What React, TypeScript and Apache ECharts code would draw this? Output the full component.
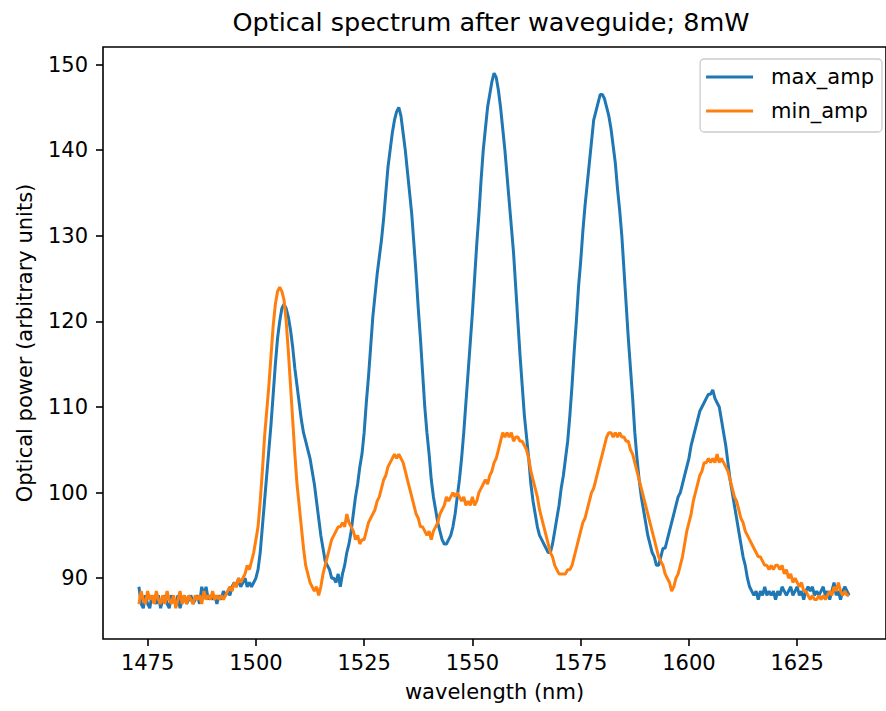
import React, { useEffect, useRef } from "react";
import * as echarts from "echarts";

const TITLE = "Optical spectrum after waveguide; 8mW";
const X_NAME = "wavelength (nm)";
const Y_NAME = "Optical power (arbitrary units)";
const SERIES_NAMES = ["max_amp", "min_amp"];
const X_TICKS = [1475, 1500, 1525, 1550, 1575, 1600, 1625];
const Y_TICKS = [90, 100, 110, 120, 130, 140, 150];

// wavelength sampling (nm)
const WL_START = 1473;
const WL_STEP = 0.5;

const MAX_AMP = [
  89, 87, 86.5, 88, 87, 86.5, 88, 87.5, 87, 88, 86.5, 87.5, 88, 87, 86.5, 88, 87.5, 87, 88, 86.5,
  87.5, 88, 87, 87.5, 88, 87, 87.5, 88, 87, 89, 88, 89, 87.5, 88, 87.5, 88, 87, 88, 87.5, 88.5,
  88, 88.5, 88, 89, 89.5, 89, 90, 89, 89.5, 90, 89, 89.5, 89, 89.5, 90, 91, 93, 96, 99, 102,
  105, 108, 111.5, 115, 118, 120, 121.5, 122, 121.5, 120.5, 119, 117, 114.5, 112.5, 110.5, 108.5, 107, 106, 105, 104,
  102.5, 101, 99, 97, 95, 93.5, 92, 91.5, 91, 90, 90, 89.5, 90.5, 89, 90.5, 91.5, 93, 94, 95.5, 97.5,
  99.5, 101, 103, 104.5, 107, 110.5, 113.5, 117, 120.5, 123, 125.5, 127.5, 129.5, 132, 135, 138, 140, 142, 143.5, 144.5,
  145, 144, 142, 140, 137.5, 135, 132.5, 129, 125.5, 121.5, 118, 114, 110, 107, 104.5, 101.5, 99.5, 98, 96.5, 95.5,
  94.5, 94, 94, 94.5, 95, 96, 97.5, 99.5, 101.5, 104, 107, 110.5, 114, 117.5, 121, 125, 129, 132.5, 136.5, 140,
  142.5, 145, 146.5, 148, 149, 148.5, 147, 145, 142.5, 140, 137, 134, 131, 128, 124, 120, 116, 112.5, 109, 106.5,
  104, 101, 99, 97.5, 96, 95, 94.5, 94, 93.5, 93, 93, 94, 95.5, 97, 98.5, 100.5, 102, 104, 106, 109,
  112.5, 116.5, 120, 124, 127, 130.5, 133.5, 136, 138.5, 141, 143.5, 144.5, 145.5, 146.5, 146.5, 146, 145, 144, 142.5, 140.5,
  138.5, 135.5, 133, 130, 126, 122, 118, 114.5, 111, 107, 104, 101.5, 99.5, 98, 96.5, 95, 94, 93, 92.5, 91.5,
  91.5, 92.5, 93.5, 93.5, 94.5, 95.5, 96.5, 97.5, 98.5, 99.5, 100, 101, 102, 103, 104, 105.5, 106.5, 107.5, 108.5, 109.5,
  110, 110.5, 111, 111.5, 111.5, 112, 111, 110.5, 110, 108.5, 107, 105.5, 103.5, 101.5, 100, 98.5, 97, 95.5, 94, 92.5,
  91.5, 90, 89, 88.5, 88, 88.5, 87.5, 88.5, 88, 89, 88, 88.5, 88, 88.5, 87.5, 88.5, 88, 89, 88.5, 88,
  88.5, 89, 88, 88.5, 89, 88, 88.5, 87.5, 88.5, 89, 88.5, 89, 88, 88.5, 88, 88.5, 89, 88, 88.5, 87.5,
  88.5, 89.5, 88, 88.5, 87.5, 88.5, 89, 88.5, 88,
];

const MIN_AMP = [
  87, 88.5, 87.5, 87, 88.5, 87.5, 88, 87, 88.5, 87.5, 87, 88, 87, 88.5, 87.5, 87, 88, 86.5, 87.5, 88.5,
  87, 88, 87, 88, 87.5, 87, 88, 87.5, 88, 87, 88.5, 87.5, 88, 87.5, 88.5, 87.5, 88, 87.5, 88, 87.5,
  88, 88.5, 89, 88.5, 89.5, 89, 90, 89.5, 90, 90.5, 91.5, 91, 92, 93, 94.5, 96, 99, 102.5, 106.5, 109.5,
  112.5, 116, 119.5, 122, 123.5, 124, 123.5, 122.5, 120, 116.5, 112.5, 108.5, 104.5, 101, 98.5, 96, 93.5, 91.5, 90.5, 89.5,
  89, 88.5, 89, 88, 89, 90.5, 91.5, 92.5, 93.5, 94.5, 95, 95.5, 96, 96, 96.5, 96, 97.5, 96.5, 96, 95.5,
  94.5, 95, 94, 94.5, 94.5, 95.5, 96.5, 97, 97.5, 98, 99, 99.5, 100.5, 101.5, 102, 103, 103.5, 104, 104.5, 104,
  104.5, 104, 103.5, 102.5, 101.5, 100.5, 99.5, 98.5, 97.5, 97, 96, 96, 95.5, 95, 95.5, 94.5, 95.5, 96, 96.5, 97.5,
  98, 98.5, 99.5, 99, 99.5, 100, 99.5, 100, 99.5, 99, 99.5, 98.5, 99, 98.5, 99.5, 98.5, 99, 100, 100.5, 101,
  101.5, 101, 102, 102.5, 103.5, 104, 105, 106, 107, 106.5, 107, 106.5, 107, 106, 106.5, 106.5, 106, 106, 105.5, 105,
  104, 102.5, 101.5, 100.5, 99.5, 98, 97, 96, 95, 94, 93, 92.5, 91.5, 91, 90.5, 90.5, 90.5, 90.5, 91, 91,
  91.5, 92.5, 93.5, 94.5, 95.5, 96.5, 97, 98, 99, 100, 100.5, 101.5, 102.5, 103.5, 104.5, 105.5, 106.5, 107, 107, 106.5,
  107, 106.5, 107, 106.5, 106.5, 106, 106, 105, 104.5, 103.5, 102.5, 101.5, 100.5, 99.5, 98.5, 97.5, 96.5, 95.5, 94.5, 93.5,
  92.5, 92, 91.5, 90.5, 90, 89.5, 88.5, 89, 90, 90.5, 91.5, 92.5, 94, 95.5, 96.5, 97.5, 99, 100, 101, 102,
  102.5, 103.5, 103.5, 104, 103.5, 104, 103.5, 104.5, 103.5, 104, 103.5, 103, 102.5, 101.5, 100.5, 99.5, 99, 98, 97, 96.5,
  95.5, 95, 94.5, 94, 93.5, 93, 92.5, 92.5, 92, 91.5, 91.5, 91, 91.5, 91, 91.5, 91.5, 91, 91.5, 90.5, 91,
  90, 90.5, 89.5, 90, 89.5, 89, 89.5, 88.5, 88.5, 88, 87.5, 88, 87.5, 87.5, 88, 87.5, 88, 87.5, 88, 88.5,
  88, 89, 88.5, 89.5, 88.5, 88, 88.5, 88, 88,
];

const COLORS = ["#1f77b4", "#ff7f0e"];
const FONT = "DejaVu Sans";

export default function App() {
  const ref = useRef<HTMLDivElement>(null);
  useEffect(() => {
    if (!ref.current) return;
    const chart = echarts.init(ref.current, null, { renderer: "svg" });
    const toPairs = (vals: number[]) =>
      vals.map((v, i) => [WL_START + i * WL_STEP, v]);
    const axisText = { fontFamily: FONT, fontSize: 21, color: "#000" };
    chart.setOption({
      animation: false,
      backgroundColor: "#ffffff",
      graphic: [
        {
          type: "text",
          x: 491,
          y: 22,
          style: {
            text: TITLE,
            fill: "#000",
            fontFamily: FONT,
            fontSize: 25.5,
            textAlign: "center",
            textVerticalAlign: "middle",
            align: "center",
            verticalAlign: "middle",
          },
        },
      ],
      grid: {
        left: 103,
        right: -13,
        top: 47,
        bottom: 72,
        show: true,
        borderColor: "#000",
        borderWidth: 1.6,
        backgroundColor: "transparent",
      },
      xAxis: {
        type: "value",
        min: 1464.7,
        max: 1645.5,
        name: X_NAME,
        nameLocation: "middle",
        nameGap: 42,
        nameTextStyle: axisText,
        axisLine: { show: false },
        splitLine: { show: false },
        axisTick: {
          show: true,
          length: 7,
          lineStyle: { color: "#000", width: 1.6 },
          customValues: X_TICKS,
        },
        axisLabel: {
          ...axisText,
          margin: 13,
          customValues: X_TICKS,
          formatter: (v: number) => String(v),
        },
      },
      yAxis: {
        type: "value",
        min: 82.9,
        max: 152.05,
        name: Y_NAME,
        nameLocation: "middle",
        nameGap: 68,
        nameTextStyle: axisText,
        axisLine: { show: false },
        splitLine: { show: false },
        axisTick: {
          show: true,
          length: 7,
          lineStyle: { color: "#000", width: 1.6 },
          customValues: Y_TICKS,
        },
        axisLabel: {
          ...axisText,
          margin: 15,
          customValues: Y_TICKS,
          formatter: (v: number) => String(v),
        },
      },
      legend: {
        orient: "vertical",
        right: 4,
        top: 59,
        data: SERIES_NAMES,
        icon: "rect",
        itemWidth: 47,
        itemHeight: 3,
        itemGap: 10,
        padding: [6, 8, 9, 6],
        borderColor: "#cccccc",
        borderWidth: 1.3,
        borderRadius: 4,
        backgroundColor: "rgba(255,255,255,0.8)",
        textStyle: {
          fontFamily: FONT,
          fontSize: 21,
          color: "#000",
          lineHeight: 24,
          padding: [0, 0, 0, 13],
        },
      },
      series: [
        {
          name: SERIES_NAMES[0],
          type: "line",
          data: toPairs(MAX_AMP),
          symbol: "none",
          showSymbol: false,
          color: COLORS[0],
          lineStyle: { width: 3, color: COLORS[0] },
        },
        {
          name: SERIES_NAMES[1],
          type: "line",
          data: toPairs(MIN_AMP),
          symbol: "none",
          showSymbol: false,
          color: COLORS[1],
          lineStyle: { width: 3, color: COLORS[1] },
        },
      ],
    });
    return () => chart.dispose();
  }, []);
  return (
    <div
      ref={ref}
      style={{ position: "fixed", left: 0, top: 0, width: 886, height: 711 }}
    />
  );
}
